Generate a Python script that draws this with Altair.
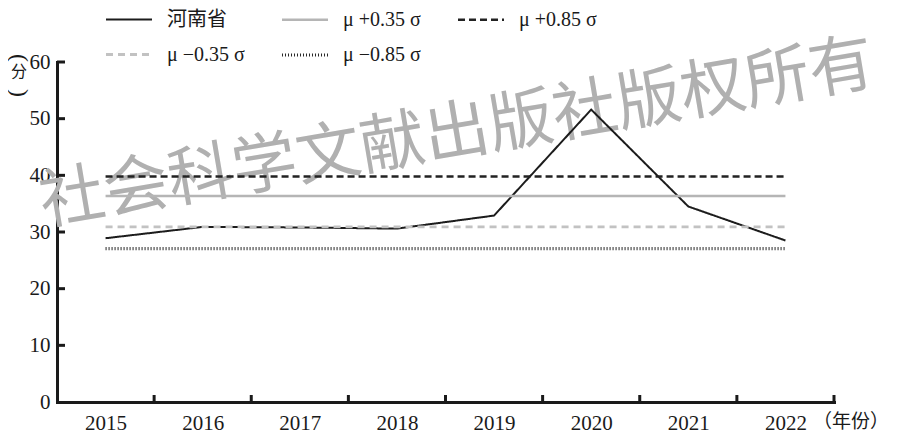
import altair as alt
import pandas as pd

# ---------------- data ----------------
years = [2015, 2016, 2017, 2018, 2019, 2020, 2021, 2022]
henan = [28.9, 30.9, 30.8, 30.6, 32.9, 51.6, 34.5, 28.5]

ref_names = ["μ +0.35 σ", "μ +0.85 σ", "μ −0.35 σ", "μ −0.85 σ"]
ref_levels = [36.35, 39.8, 30.9, 27.05]

series_names = ["河南省", "μ +0.35 σ", "μ +0.85 σ", "μ −0.35 σ", "μ −0.85 σ"]
y_ticks = [0, 10, 20, 30, 40, 50, 60]

watermark = "社会科学文献出版社版权所有"
y_title = "分"
x_title = "（年份）"

# ---------------- styles ----------------
colors = ["#1c1c1c", "#b5b5b5", "#222222", "#c2c2c2", "#2a2a2a"]
dashes = [[1, 0], [1, 0], [7, 4], [7, 5], [1, 2]]
widths = [2, 3.2, 2, 2, 1.4]
SERIF = "Liberation Serif, Noto Sans CJK SC"
W, H = 777, 340

henan_df = pd.DataFrame({"year": years, "value": henan, "series": "河南省"})
ref_df = pd.DataFrame(
    [{"year": y, "value": lv, "series": nm} for nm, lv in zip(ref_names, ref_levels) for y in years]
)
ytick_df = pd.DataFrame({"value": y_ticks[1:]})
xtick_df = pd.DataFrame({"year": [y + 0.5 for y in years]})


def x_enc():
    return alt.X(
        "year:Q",
        scale=alt.Scale(domain=[years[0] - 0.5, years[-1] + 0.5], nice=False, zero=False),
        axis=alt.Axis(values=years, format="d", title=None, ticks=False, labelPadding=10,
                      labelFlush=False, grid=False),
    )


def y_enc():
    return alt.Y(
        "value:Q",
        scale=alt.Scale(domain=[0, 60], nice=False),
        axis=alt.Axis(values=y_ticks, title=None, ticks=False, labelPadding=7,
                      labelFlush=False, grid=False, labelBaseline="middle"),
    )


legend = alt.Legend(
    title=None, orient="none", legendX=47, legendY=-67, columns=3, direction="horizontal",
    symbolType="stroke", symbolSize=2116, labelFont=SERIF, labelFontSize=20,
    labelColor="#1a1a1a", labelOffset=13, rowPadding=-5, columnPadding=30,
    gridAlign="all", padding=0,
)

enc = dict(
    x=x_enc(),
    y=y_enc(),
    color=alt.Color("series:N", scale=alt.Scale(domain=series_names, range=colors), legend=legend),
    strokeDash=alt.StrokeDash("series:N", scale=alt.Scale(domain=series_names, range=dashes)),
    strokeWidth=alt.StrokeWidth("series:N", scale=alt.Scale(domain=series_names, range=widths)),
)

wm = alt.Chart(pd.DataFrame({"t": [watermark]})).mark_text(
    font="Noto Sans CJK SC", fontSize=65, color="#b0b0b0", angle=350.4,
    align="center", baseline="middle",
).encode(x=alt.value(400), y=alt.value(72), text="t:N")

henan_line = alt.Chart(henan_df).mark_line().encode(**enc)
ref_lines = alt.Chart(ref_df).mark_line().encode(**enc)

yticks = alt.Chart(ytick_df).mark_rule(color="#1a1a1a", strokeWidth=3).encode(
    y=y_enc(), x=alt.value(0), x2=alt.value(8)
)
xticks = alt.Chart(xtick_df).mark_rule(color="#1a1a1a", strokeWidth=3).encode(
    x=x_enc(), y=alt.value(H), y2=alt.value(H - 7)
)

ytitle_c = alt.Chart(pd.DataFrame({"t": [y_title]})).mark_text(
    font="Noto Sans CJK SC", fontSize=16, color="#1a1a1a", align="center", baseline="middle"
).encode(x=alt.value(-38), y=alt.value(10), text="t:N")
ytitle_top = alt.Chart(pd.DataFrame({"t": ["("]})).mark_text(
    font="Liberation Serif", fontSize=24, color="#1a1a1a", align="center", baseline="middle", angle=90
).encode(x=alt.value(-38), y=alt.value(-4), text="t:N")
ytitle_bot = alt.Chart(pd.DataFrame({"t": [")"]})).mark_text(
    font="Liberation Serif", fontSize=24, color="#1a1a1a", align="center", baseline="middle", angle=90
).encode(x=alt.value(-38), y=alt.value(31), text="t:N")

xtitle = alt.Chart(pd.DataFrame({"t": [x_title]})).mark_text(
    font="Noto Sans CJK SC", fontSize=19, color="#1a1a1a", align="left", baseline="alphabetic"
).encode(x=alt.value(756), y=alt.value(366), text="t:N")

chart = (
    alt.layer(wm, henan_line, ref_lines, yticks, xticks, ytitle_c, ytitle_top, ytitle_bot, xtitle)
    .properties(
        width=W, height=H,
        autosize=alt.AutoSizeParams(type="none"),
        padding={"left": 49, "top": 54, "right": 56, "bottom": 31},
        background="white",
    )
    .configure_view(stroke=None)
    .configure_axis(
        domainColor="#1a1a1a", domainWidth=3, domainCap="square",
        labelFont="Liberation Serif", labelFontSize=21, labelColor="#1a1a1a", zindex=1,
    )
)

chart.save("out.html", embed_options={"renderer": "svg", "actions": False})
